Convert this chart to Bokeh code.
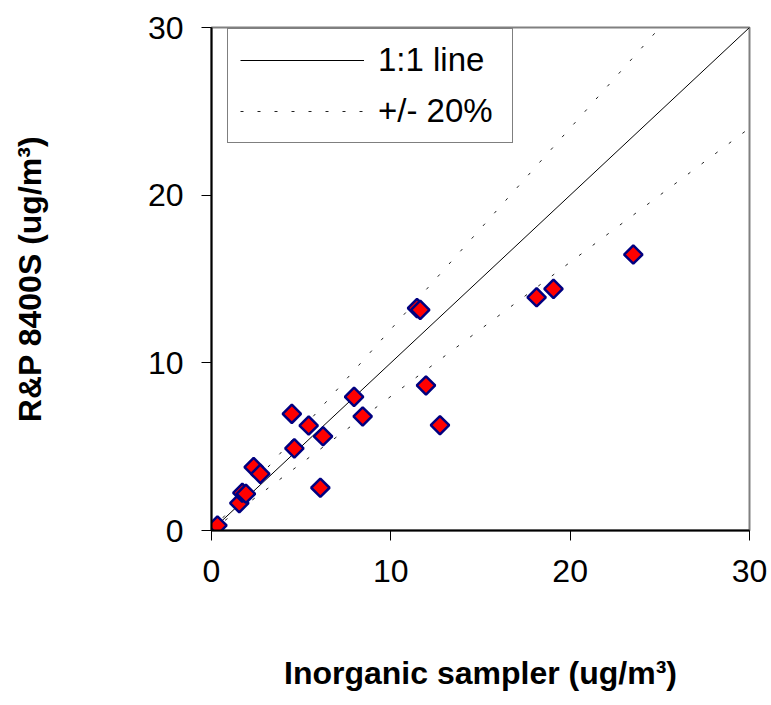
from bokeh.plotting import figure
from bokeh.models import Range1d, FixedTicker, Legend, LegendItem
from bokeh.embed import file_html
from bokeh.resources import INLINE
import numpy as np

# Data
inorganic = [0.33, 1.55, 1.72, 1.92, 2.35, 2.72, 4.48, 4.62, 5.42, 6.22, 6.07,
             7.95, 8.43, 11.46, 11.64, 11.96, 12.74, 18.13, 19.07, 23.52]
rp8400s = [0.30, 1.63, 2.25, 2.19, 3.78, 3.38, 6.96, 4.90, 6.26, 5.62, 2.55,
           7.97, 6.80, 13.26, 13.16, 8.65, 6.28, 13.91, 14.41, 16.46]
line_x = [0, 30.5]
ratio_one = 1.0
ratio_upper = 1.2
ratio_lower = 0.8
ticks = [0, 10, 20, 30]

FONT = "Liberation Sans"

p = figure(width=771, height=705, output_backend="svg", toolbar_location=None,
           x_range=Range1d(0, 30), y_range=Range1d(0, 30),
           min_border_left=211, min_border_right=22, min_border_top=27, min_border_bottom=175)
p.background_fill_color = "white"
p.border_fill_color = "white"
p.xgrid.visible = False
p.ygrid.visible = False
p.outline_line_color = "#808080"
p.outline_line_width = 2

for ax in (p.xaxis[0], p.yaxis[0]):
    ax.ticker = FixedTicker(ticks=ticks)
    ax.minor_tick_line_color = None
    ax.major_tick_out = 10
    ax.major_tick_in = 0
    ax.major_tick_line_color = "black"
    ax.major_tick_line_width = 1
    ax.axis_line_color = "black"
    ax.axis_line_width = 2
    ax.major_label_text_font = FONT
    ax.major_label_text_font_size = "32px"
    ax.major_label_text_color = "black"
    ax.axis_label_text_font = FONT
    ax.axis_label_text_font_style = "bold"
    ax.axis_label_text_font_size = "32px"
    ax.axis_label_text_color = "black"

p.xaxis[0].axis_label = "Inorganic sampler (ug/m³)"
p.yaxis[0].axis_label = "R&P 8400S (ug/m³)"
p.xaxis[0].major_label_standoff = 19
p.xaxis[0].axis_label_standoff = 70
p.yaxis[0].major_label_standoff = 18
p.yaxis[0].axis_label_standoff = 97

lx = np.array(line_x)
r_one = p.line(lx, lx * ratio_one, line_color="black", line_width=1)
r_up = p.line(lx, lx * ratio_upper, line_color="#222222", line_width=1, line_dash="3 14")
r_lo = p.line(lx, lx * ratio_lower, line_color="#222222", line_width=1, line_dash="3 14")

p.scatter(inorganic, rp8400s, marker="square", angle=np.pi / 4, size=13,
          fill_color="#ff0000", line_color="#000080", line_width=2.5)

legend = Legend(items=[LegendItem(label="1:1 line", renderers=[r_one]),
                       LegendItem(label="+/- 20%", renderers=[r_up])],
                location=(16, 387))
legend.label_text_font = FONT
legend.label_text_font_size = "33px"
legend.label_text_color = "black"
legend.border_line_color = "black"
legend.border_line_width = 1
legend.background_fill_color = "white"
legend.background_fill_alpha = 1
legend.padding = 12
legend.spacing = 13
legend.glyph_width = 124
legend.glyph_height = 34
legend.label_height = 34
legend.label_width = 122
legend.label_standoff = 14
legend.margin = 0
p.add_layout(legend, "center")

open("out.html", "w").write(file_html(p, INLINE))
